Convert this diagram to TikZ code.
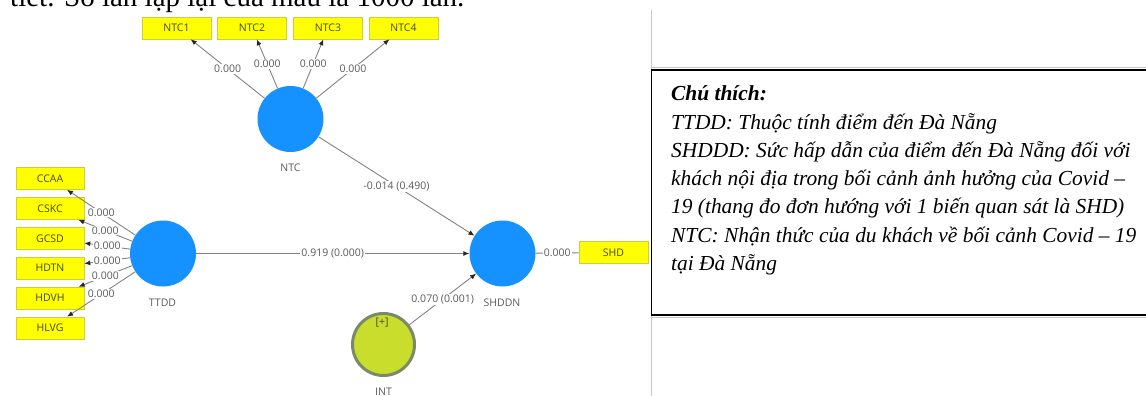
\documentclass[tikz,border=0pt]{standalone}
\usepackage{fontspec}
\setmainfont{Liberation Serif}
\newfontfamily\uifont{Open Sans}
\usetikzlibrary{arrows.meta}
\definecolor{circblue}{RGB}{21,146,255}
\definecolor{indyellow}{RGB}{255,255,0}
\definecolor{indborder}{RGB}{205,205,60}
\definecolor{intgreen}{RGB}{200,221,44}
\definecolor{intborder}{RGB}{122,138,104}
\definecolor{edgegray}{RGB}{130,130,130}
\definecolor{lblgray}{RGB}{90,90,90}
\definecolor{boxtext}{RGB}{70,70,30}
\definecolor{rulegray}{RGB}{200,200,200}
\begin{document}
\begin{tikzpicture}[x=1pt,y=-1pt,
 latent/.style={circle, fill=circblue, minimum size=66pt, inner sep=0pt},
 inter/.style={circle, fill=intgreen, draw=intborder, line width=3pt, minimum size=62pt, inner sep=0pt},
 ind/.style={rectangle, fill=indyellow, draw=indborder, line width=0.6pt, minimum width=69pt, minimum height=22pt, inner sep=0pt, font=\uifont\fontsize{10.5}{12}\selectfont, text=boxtext},
 cname/.style={font=\uifont\fontsize{10.5}{12}\selectfont, text=lblgray, inner sep=0pt},
 edge/.style={draw=edgegray, line width=0.9pt, -{Latex[length=6pt,width=5pt,color=black!85]}},
 plainedge/.style={draw=edgegray, line width=0.9pt},
 wlbl/.style={midway, fill=white, inner sep=1pt, font=\uifont\fontsize{10.5}{12}\selectfont, text=lblgray},
 legend/.style={anchor=base west, inner sep=0pt, font=\fontsize{21.4}{26}\selectfont\itshape},
]
\useasboundingbox (0,0) rectangle (1146,396);
\clip (0,0) rectangle (1146,396);

% cut-off caption line at top
\node[anchor=base west, inner sep=0pt, font=\fontsize{29}{30}\selectfont] (toptext) at (10,6.5) {tiết. Số lần lặp lại của mẫu là 1000 lần.};

% table rules and legend box
\coordinate (vtop) at (651,10);
\coordinate (vbot) at (651,396);
\draw[rulegray, line width=1pt] (vtop) -- (vbot);
\draw[rulegray, line width=1pt] (651,68) -- (1146,68);
\draw[rulegray, line width=1pt] (651,317) -- (1146,317);
\draw[black, line width=1.5pt] (651.5,70) rectangle (1150,315);

\node[legend, font=\fontsize{21.4}{26}\selectfont\bfseries\itshape] (lg0) at (671,100.7) {Chú thích:};
\node[legend] (lg1) at (671,129.0) {TTDD: Thuộc tính điểm đến Đà Nẵng};
\node[legend] (lg2) at (671,157.3) {SHDDD: Sức hấp dẫn của điểm đến Đà Nẵng đối với};
\node[legend] (lg3) at (671,185.6) {khách nội địa trong bối cảnh ảnh hưởng của Covid –};
\node[legend] (lg4) at (671,213.9) {19 (thang đo đơn hướng với 1 biến quan sát là SHD)};
\node[legend] (lg5) at (671,242.2) {NTC: Nhận thức của du khách về bối cảnh Covid – 19};
\node[legend] (lg6) at (671,270.5) {tại Đà Nẵng};

% latent variables
\node[latent] (NTC) at (290.5,119) {};
\node[latent] (TTDD) at (163,253.5) {};
\node[latent] (SHDDN) at (502.5,253.5) {};
\node[inter] (INT) at (383.5,344.5) {};
\node[cname, text=boxtext] (plus) at (382,323) {[+]};

\node[cname] (NTCname) at (290.5,168) {NTC};
\node[cname] (TTDDname) at (162.5,303) {TTDD};
\node[cname] (SHDDNname) at (502,303) {SHDDN};
\node[cname] (INTname) at (383.5,392) {INT};

% indicators
\node[ind] (NTC1) at (176.5,28) {NTC1};
\node[ind] (NTC2) at (252,28) {NTC2};
\node[ind] (NTC3) at (328,28) {NTC3};
\node[ind] (NTC4) at (403.5,28) {NTC4};

\node[ind, minimum width=68pt] (CCAA) at (50,178.5) {CCAA};
\node[ind, minimum width=68pt] (CSKC) at (50,208.5) {CSKC};
\node[ind, minimum width=68pt] (GCSD) at (50,238.5) {GCSD};
\node[ind, minimum width=68pt] (HDTN) at (50,268) {HDTN};
\node[ind, minimum width=68pt] (HDVH) at (50,298) {HDVH};
\node[ind, minimum width=68pt] (HLVG) at (50,328) {HLVG};

\node[ind] (SHD) at (613.5,252.5) {SHD};

% outer loadings
\draw[edge] (NTC) -- node[wlbl] {0.000} (NTC1);
\draw[edge] (NTC) -- node[wlbl] {0.000} (NTC2);
\draw[edge] (NTC) -- node[wlbl] {0.000} (NTC3);
\draw[edge] (NTC) -- node[wlbl] {0.000} (NTC4);

\draw[edge] (TTDD) -- node[wlbl] {0.000} (CCAA);
\draw[edge] (TTDD) -- node[wlbl] {0.000} (CSKC);
\draw[edge] (TTDD) -- node[wlbl] {0.000} (GCSD);
\draw[edge] (TTDD) -- node[wlbl] {0.000} (HDTN);
\draw[edge] (TTDD) -- node[wlbl] {0.000} (HDVH);
\draw[edge] (TTDD) -- node[wlbl] {0.000} (HLVG);

\draw[plainedge] (SHDDN) -- node[wlbl] {0.000} (SHD);

% structural paths
\draw[edge] (NTC) -- node[wlbl] {-0.014 (0.490)} (SHDDN);
\draw[edge] (TTDD) -- node[wlbl] {0.919 (0.000)} (SHDDN);
\draw[edge] (INT) -- node[wlbl] {0.070 (0.001)} (SHDDN);
\end{tikzpicture}
\end{document}
